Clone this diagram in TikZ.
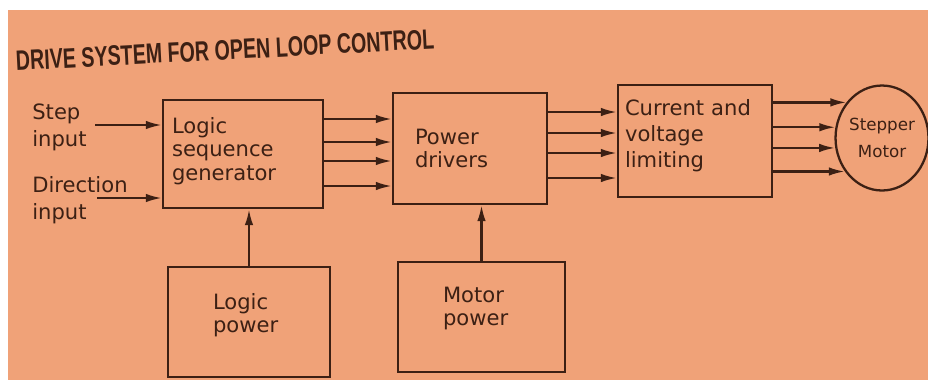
\documentclass[tikz,border=0pt]{standalone}
\usepackage{fontspec}
\setmainfont{DejaVu Sans}
\newfontfamily\titlefont{Liberation Sans}
\usetikzlibrary{shapes.geometric,arrows.meta,positioning,calc}
\definecolor{paper}{RGB}{240,162,120}
\definecolor{ink}{RGB}{60,32,20}

\begin{document}
\begin{tikzpicture}[x=0.02cm, y=-0.02cm,
    box/.style={rectangle, draw=ink, line width=1.3pt, align=left, text=ink,
                font=\fontsize{12}{13.6}\selectfont},
    lbl/.style={anchor=west, align=left, text=ink, inner sep=0pt,
                font=\fontsize{12}{15.4}\selectfont},
    arrow/.style={-{Latex[length=3.2mm,width=1.7mm]}, draw=ink, line width=1.3pt}
  ]
  
  \fill[white] (0,0) rectangle (928,380);
  \fill[paper] (8,10) rectangle (928,380);
  \useasboundingbox (0,0) rectangle (928,380);
  
  \node[text=ink, rotate=3, inner sep=0pt, font=\titlefont\bfseries\fontsize{16}{18}\selectfont] (title) at (225,50)
    {\scalebox{0.7}[1]{DRIVE SYSTEM FOR OPEN LOOP CONTROL}};
  
  % main chain
  \node[box, minimum height=2.16cm, text width=2.84cm, inner xsep=0.18cm,
        text height=0.32cm, text depth=1.16cm] (lsg) at (243,154)
    {Logic\\sequence\\generator};
  \node[box, minimum height=2.22cm, text width=2.2cm, inner xsep=0.44cm] (pd) at (470,148.5)
    {Power\\drivers};
  \node[box, minimum height=2.24cm, text width=2.8cm, inner xsep=0.14cm,
        font=\fontsize{12}{15}\selectfont,
        text height=0.32cm, text depth=1.36cm] (cvl) at (695,141)
    {Current and\\voltage\\limiting};
  \node[ellipse, draw=ink, line width=1.3pt, minimum width=1.84cm, minimum height=2.1cm,
        inner sep=0pt, align=center, text=ink, font=\fontsize{9.5}{15}\selectfont] (motor) at (882,138)
    {Stepper\\Motor};
  
  % supplies
  \node[box, minimum height=2.2cm, text width=1.44cm, inner xsep=0.9cm,
        text height=0.32cm, text depth=0.84cm] (lp) at (249,322)
    {Logic\\power};
  \node[box, minimum height=2.2cm, text width=1.54cm, inner xsep=0.9cm,
        text height=0.32cm, text depth=0.92cm] (mp) at (481.5,317)
    {Motor\\power};
  
  % inputs
  \node[lbl] (step) at (32,127) {Step\\input};
  \node[lbl] (dir) at (32,200) {Direction\\input};
  \coordinate (stepin) at (95,125);
  \coordinate (dirin) at (97,198);
  
  \draw[arrow] (stepin) -- (stepin -| lsg.west);
  \draw[arrow] (dirin) -- (dirin -| lsg.west);
  
  \foreach \y in {119,142,161,186}
    \draw[arrow] (lsg.east |- 0,\y) -- (pd.west |- 0,\y);
  \foreach \y in {112,133,153,178}
    \draw[arrow] (pd.east |- 0,\y) -- (cvl.west |- 0,\y);
  \foreach \a in {135.7,167.5,192.5,222.9}
    \draw[arrow] (cvl.east |- motor.\a) -- (motor.\a);
  
  \draw[arrow] (lp.north) -- (lp.north |- lsg.south);
  \draw[arrow] (mp.north) -- (mp.north |- pd.south);
  
\end{tikzpicture}
\end{document}
